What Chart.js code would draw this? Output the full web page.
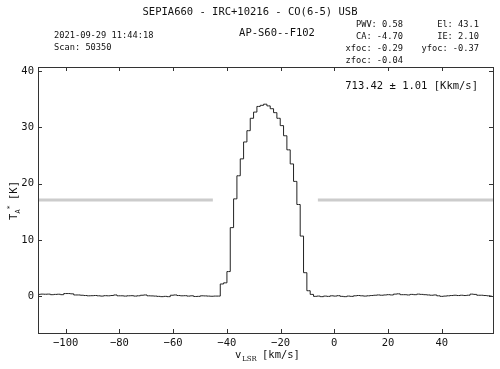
<!DOCTYPE html>
<html lang="en">
  <head>
    <meta charset="UTF-8" />
    <title>SEPIA660 - IRC+10216 - CO(6-5) USB</title>
    <script src="https://cdn.jsdelivr.net/npm/chart.js"></script>
    <style>
      html, body { margin: 0; padding: 0; background: #ffffff; }
      #wrap { position: relative; width: 500px; height: 369px; }
    </style>
  </head>
  <body>
    <div id="wrap"><canvas id="spectrumChart"></canvas></div>

    <script>
      // Spectral channel grid (left edge of first channel, channel width in km/s)
      const V0 = -110.64;
      const DV = 1.24;

      // Antenna temperature per channel [K]
      const TA = [
        0.35, 0.4, 0.38, 0.4, 0.3, 0.35, 0.38, 0.3, 0.5, 0.5,
        0.45, 0.25, 0.25, 0.2, 0.15, 0.1, 0.12, 0.15, 0.1, 0.05,
        0.12, 0.1, 0.15, 0.25, 0.1, 0.1, 0.05, 0.1, 0.12, 0.05,
        0.1, 0.2, 0.25, 0.1, 0.08, 0.05, 0.0, -0.05, 0.0, -0.05,
        0.2, 0.25, 0.15, 0.1, 0.12, 0.05, 0.1, -0.02, 0.0, 0.1,
        0.08, 0.05, 0.02, 0.05, 0.05,
        // line
        2.2, 2.4, 4.4, 12.2, 17.3, 21.4, 24.4, 27.4, 29.4, 31.6,
        32.7, 33.7, 33.9, 34.1, 33.8, 33.3, 32.6, 31.6, 30.3, 28.5,
        26.0, 23.5, 20.4, 16.3, 10.7, 4.2, 1.0,
        // right baseline
        0.35, 0.0, 0.05, -0.05, 0.05, 0.0, 0.1, 0.05, 0.12, 0.0,
        -0.05, 0.05, 0.0, 0.1, 0.15, 0.1, 0.05, 0.1, 0.15, 0.2,
        0.25, 0.2, 0.25, 0.3, 0.25, 0.4, 0.45, 0.3, 0.3, 0.25,
        0.35, 0.3, 0.4, 0.35, 0.3, 0.25, 0.2, 0.25, 0.1, 0.0,
        0.05, 0.1, 0.15, 0.2, 0.15, 0.2, 0.15, 0.2, 0.4, 0.35,
        0.2, 0.2, 0.15, 0.1, 0.05
      ];

      // Baseline fitting windows (grey bars)
      const WINDOW_LEFT = [-110.3, -45.2];
      const WINDOW_RIGHT = [-6.1, 59.1];
      const WINDOW_LEVEL = 17.1;

      // Axes
      const X_RANGE = [-110.3, 59.1];
      const Y_RANGE = [-6.5, 40.7];
      const X_TICKS = [-100, -80, -60, -40, -20, 0, 20, 40];
      const Y_TICKS = [0, 10, 20, 30, 40];

      // Header texts
      const TITLE = "SEPIA660 - IRC+10216 - CO(6-5) USB";
      const SUBTITLE = "AP-S60--F102";
      const LEFT_INFO = ["2021-09-29 11:44:18", "Scan: 50350"];
      const MID_INFO = ["PWV: 0.58", "CA: -4.70", "xfoc: -0.29", "zfoc: -0.04"];
      const RIGHT_INFO = ["El: 43.1", "IE: 2.10", "yfoc: -0.37"];
      const INTEGRAL = "713.42 \u00b1 1.01 [Kkm/s]";

      const MONO = "'DejaVu Sans Mono', monospace";

      const spectrum = TA.map((t, i) => ({ x: V0 + (i + 0.5) * DV, y: t }));

      const minusFmt = v => String(v).replace("-", "\u2212");

      // draws frame, inward ticks, header texts and axis labels
      const decorations = {
        id: "decorations",
        afterDraw(chart) {
          const c = chart.ctx;
          const a = chart.chartArea;
          const xs = chart.scales.x;
          const ys = chart.scales.y;
          c.save();

          c.strokeStyle = "#333";
          c.lineWidth = 1;
          c.strokeRect(Math.round(a.left) + 0.5, Math.round(a.top) + 0.5,
            Math.round(a.right - a.left), Math.round(a.bottom - a.top));

          c.beginPath();
          X_TICKS.forEach(v => {
            const px = Math.round(xs.getPixelForValue(v)) + 0.5;
            c.moveTo(px, a.bottom); c.lineTo(px, a.bottom - 4);
            c.moveTo(px, a.top); c.lineTo(px, a.top + 4);
          });
          Y_TICKS.forEach(v => {
            const py = Math.round(ys.getPixelForValue(v)) + 0.5;
            c.moveTo(a.left, py); c.lineTo(a.left + 4, py);
            c.moveTo(a.right, py); c.lineTo(a.right - 4, py);
          });
          c.stroke();

          c.fillStyle = "#111";
          c.textBaseline = "middle";
          c.font = "10.5px " + MONO;
          c.textAlign = "center";
          c.fillText(TITLE, 250, 12);
          c.fillText(SUBTITLE, 277, 33);

          c.font = "8.7px " + MONO;
          c.textAlign = "left";
          c.fillText(LEFT_INFO[0], 54, 36);
          c.fillText(LEFT_INFO[1], 54, 48);
          c.textAlign = "right";
          MID_INFO.forEach((t, i) => c.fillText(t, 403, 25 + i * 11.8));
          RIGHT_INFO.forEach((t, i) => c.fillText(t, 479, 25 + i * 11.8));

          c.font = "10.5px " + MONO;
          c.fillText(INTEGRAL, 478, 86);

          // x axis label: v_LSR [km/s]
          c.textAlign = "left";
          c.textBaseline = "alphabetic";
          c.font = "10.5px " + MONO;
          c.fillText("v", 235, 358);
          c.font = "7px 'DejaVu Serif', serif";
          c.fillText("LSR", 242, 361);
          c.font = "10.5px " + MONO;
          c.fillText("[km/s]", 262, 358);

          // y axis label: T_A* [K]
          c.translate(17, 220);
          c.rotate(-Math.PI / 2);
          c.font = "10.5px " + MONO;
          c.fillText("T", 0, 0);
          c.font = "7px " + MONO;
          c.fillText("A", 6.5, 3);
          c.fillText("*", 10.5, -5);
          c.font = "10.5px " + MONO;
          c.fillText("[K]", 20, 0);

          c.restore();
        }
      };

      new Chart(document.getElementById("spectrumChart"), {
        type: "line",
        data: {
          datasets: [
            {
              data: spectrum,
              borderColor: "#222",
              borderWidth: 1,
              stepped: "middle",
              pointRadius: 0,
              fill: false,
              order: 0
            },
            {
              data: WINDOW_LEFT.map(v => ({ x: v, y: WINDOW_LEVEL })),
              borderColor: "#cccccc",
              borderWidth: 3,
              pointRadius: 0,
              order: 1
            },
            {
              data: WINDOW_RIGHT.map(v => ({ x: v, y: WINDOW_LEVEL })),
              borderColor: "#cccccc",
              borderWidth: 3,
              pointRadius: 0,
              order: 1
            }
          ]
        },
        options: {
          responsive: true,
          maintainAspectRatio: false,
          animation: false,
          layout: { padding: { top: 67, right: 7, left: 0, bottom: 0 } },
          plugins: {
            legend: { display: false },
            tooltip: { enabled: false },
            title: { display: false }
          },
          scales: {
            x: {
              type: "linear",
              min: X_RANGE[0],
              max: X_RANGE[1],
              grid: { display: false, drawTicks: false },
              border: { display: false },
              afterBuildTicks: s => { s.ticks = X_TICKS.map(v => ({ value: v })); },
              afterFit: s => { s.height = 36; },
              ticks: {
                padding: 4,
                maxRotation: 0,
                color: "#111",
                font: { family: MONO, size: 10.5 },
                callback: v => minusFmt(v)
              }
            },
            y: {
              type: "linear",
              min: Y_RANGE[0],
              max: Y_RANGE[1],
              grid: { display: false, drawTicks: false },
              border: { display: false },
              afterBuildTicks: s => { s.ticks = Y_TICKS.map(v => ({ value: v })); },
              afterFit: s => { s.width = 38; },
              ticks: {
                padding: 4,
                color: "#111",
                font: { family: MONO, size: 10.5 },
                callback: v => minusFmt(v)
              }
            }
          }
        },
        plugins: [decorations]
      });
    </script>
  </body>
</html>
